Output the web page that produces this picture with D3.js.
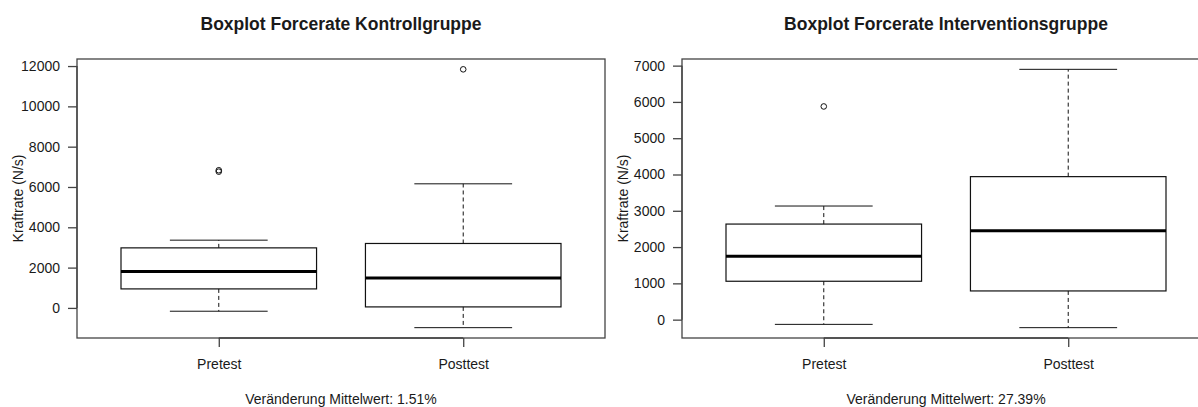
<!DOCTYPE html>
<html>
<head>
<meta charset="utf-8">
<script src="https://cdn.jsdelivr.net/npm/d3@7"></script>
<style>
  body { margin: 0; background: #fff; overflow: hidden; }
  text { font-family: "Liberation Sans", Arial, sans-serif; fill: #1a1a1a; }
</style>
</head>
<body>
<svg id="chart" width="1198" height="407"></svg>
<script>
// box stats: [lower whisker, q1, median, q3, upper whisker]
var groups = ["Pretest", "Posttest"];

var kontrollStats = [
  [-164, 943, 1807, 2979, 3361],
  [-980, 50, 1490, 3197, 6157]
];
var kontrollOutliers = [[6760, 6830], [11837]];
var kontrollTicks = [0, 2000, 4000, 6000, 8000, 10000, 12000];

var interventionStats = [
  [-130, 1058, 1749, 2634, 3131],
  [-221, 791, 2449, 3941, 6898]
];
var interventionOutliers = [[5875], []];
var interventionTicks = [0, 1000, 2000, 3000, 4000, 5000, 6000, 7000];

var titles = ["Boxplot Forcerate Kontrollgruppe", "Boxplot Forcerate Interventionsgruppe"];
var subtitles = ["Veränderung Mittelwert: 1.51%", "Veränderung Mittelwert: 27.39%"];
var yLabel = "Kraftrate (N/s)";

var svg = d3.select("#chart");

function drawPanel(left, stats, outliers, ticks, title, sub) {
  var top = 59, bottom = 338, width = 528;
  var g = svg.append("g");

  // R style ylim: data range + 4% each side
  var all = [];
  stats.forEach(function(s) { all = all.concat(s); });
  outliers.forEach(function(o) { all = all.concat(o); });
  var mn = d3.min(all), mx = d3.max(all), r = mx - mn;

  var y = d3.scaleLinear().domain([mn - 0.04 * r, mx + 0.04 * r]).range([bottom, top]);
  var x = d3.scaleLinear().domain([0.42, 2.58]).range([left, left + width]);
  var unit = x(2) - x(1);
  var halfBox = unit * 0.4, halfCap = halfBox * 0.5;

  // frame
  g.append("rect")
    .attr("x", left).attr("y", top)
    .attr("width", width).attr("height", bottom - top)
    .attr("fill", "none").attr("stroke", "#444").attr("stroke-width", 1.3);

  // y axis
  var yAxis = d3.axisLeft(y).tickValues(ticks).tickFormat(d3.format("d")).tickSize(9).tickPadding(8);
  var ya = g.append("g").attr("transform", "translate(" + left + ",0)").call(yAxis);
  ya.select(".domain").attr("d", "M0," + y(ticks[0]) + "V" + y(ticks[ticks.length - 1]))
    .attr("stroke", "#444").attr("stroke-width", 1.3);
  ya.selectAll(".tick line").attr("stroke", "#444").attr("stroke-width", 1.3);
  ya.selectAll("text").style("font-size", "14px").attr("fill", "#1a1a1a");

  // x axis
  var xAxis = d3.axisBottom(x).tickValues([1, 2]).tickFormat(function(d) { return groups[d - 1]; })
    .tickSize(9).tickPadding(12);
  var xa = g.append("g").attr("transform", "translate(0," + bottom + ")").call(xAxis);
  xa.select(".domain").attr("d", "M" + x(1) + ",0H" + x(2))
    .attr("stroke", "#444").attr("stroke-width", 1.3);
  xa.selectAll(".tick line").attr("stroke", "#444").attr("stroke-width", 1.3);
  xa.selectAll("text").style("font-size", "14px").attr("fill", "#1a1a1a");

  stats.forEach(function(s, i) {
    var cx = x(i + 1);
    var bx = g.append("g");
    // whiskers
    bx.append("line").attr("x1", cx).attr("x2", cx).attr("y1", y(s[3])).attr("y2", y(s[4]))
      .attr("stroke", "#111").attr("stroke-dasharray", "4,3");
    bx.append("line").attr("x1", cx).attr("x2", cx).attr("y1", y(s[1])).attr("y2", y(s[0]))
      .attr("stroke", "#111").attr("stroke-dasharray", "4,3");
    [s[0], s[4]].forEach(function(v) {
      bx.append("line").attr("x1", cx - halfCap).attr("x2", cx + halfCap)
        .attr("y1", y(v)).attr("y2", y(v)).attr("stroke", "#111");
    });
    bx.append("rect")
      .attr("x", cx - halfBox).attr("y", y(s[3]))
      .attr("width", halfBox * 2).attr("height", y(s[1]) - y(s[3]))
      .attr("fill", "none").attr("stroke", "#111").attr("stroke-width", 1.2);
    bx.append("line").attr("x1", cx - halfBox).attr("x2", cx + halfBox)
      .attr("y1", y(s[2])).attr("y2", y(s[2]))
      .attr("stroke", "#000").attr("stroke-width", 3);

    outliers[i].forEach(function(v) {
      bx.append("circle").attr("cx", cx).attr("cy", y(v)).attr("r", 2.8)
        .attr("fill", "none").attr("stroke", "#111").attr("stroke-width", 1);
    });
  });

  var mid = left + width / 2;
  g.append("text").attr("x", mid).attr("y", 30).attr("text-anchor", "middle")
    .style("font-size", "17.5px").style("font-weight", "bold").text(title);
  g.append("text").attr("x", mid).attr("y", 404).attr("text-anchor", "middle")
    .style("font-size", "14px").text(sub);
  g.append("text")
    .attr("transform", "translate(" + (left - 54) + "," + ((top + bottom) / 2) + ") rotate(-90)")
    .attr("text-anchor", "middle")
    .style("font-size", "14px").text(yLabel);
}

drawPanel(77, kontrollStats, kontrollOutliers, kontrollTicks, titles[0], subtitles[0]);
drawPanel(682, interventionStats, interventionOutliers, interventionTicks, titles[1], subtitles[1]);
</script>
</body>
</html>
